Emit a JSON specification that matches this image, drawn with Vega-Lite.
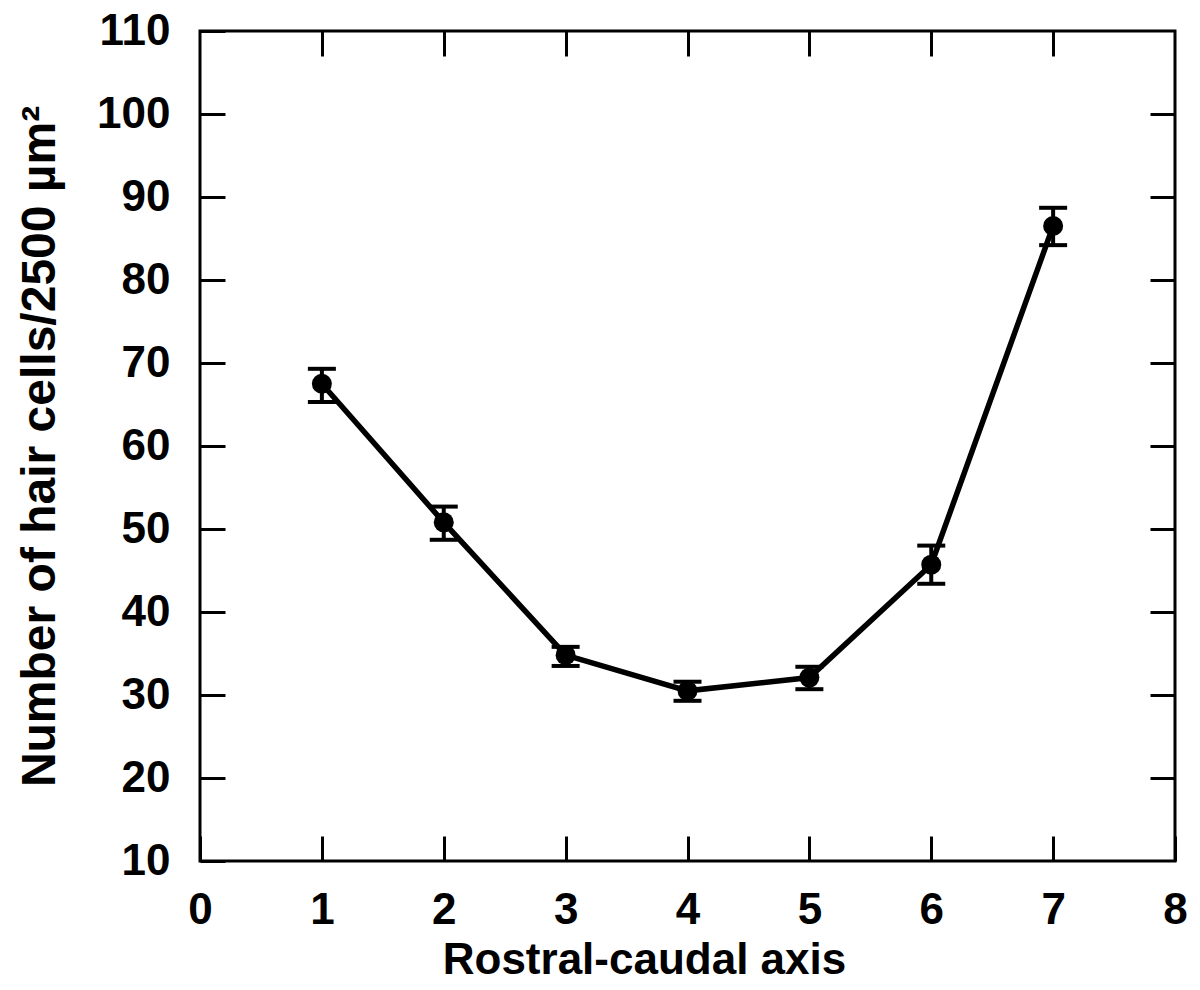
{
  "$schema": "https://vega.github.io/schema/vega-lite/v6.json",
  "width": 975,
  "height": 830,
  "autosize": "none",
  "padding": {"left": 200, "top": 31, "right": 25, "bottom": 129},
  "background": "white",
  "config": {
    "view": {"stroke": "black", "strokeWidth": 3},
    "axis": {
      "domain": false,
      "grid": false,
      "labelFlush": false,
      "labelOverlap": false,
      "tickColor": "black",
      "tickWidth": 3,
      "tickSize": -25,
      "labelFont": "Liberation Sans",
      "labelFontWeight": "bold",
      "labelFontSize": 44,
      "labelColor": "black",
      "titleFont": "Liberation Sans",
      "titleFontWeight": "bold",
      "titleFontSize": 44,
      "titleColor": "black"
    }
  },
  "data": {
    "values": [
      {"pos": 1, "mean": 67.5, "lo": 65.3, "hi": 69.3},
      {"pos": 2, "mean": 50.8, "lo": 48.7, "hi": 52.7},
      {"pos": 3, "mean": 34.8, "lo": 33.5, "hi": 35.8},
      {"pos": 4, "mean": 30.5, "lo": 29.3, "hi": 31.6},
      {"pos": 5, "mean": 32.1, "lo": 30.7, "hi": 33.4},
      {"pos": 6, "mean": 45.7, "lo": 43.4, "hi": 48.0},
      {"pos": 7, "mean": 86.5, "lo": 84.2, "hi": 88.7}
    ]
  },
  "resolve": {"axis": {"x": "independent", "y": "independent"}},
  "layer": [
    {
      "mark": {"type": "line", "color": "black", "strokeWidth": 5.5},
      "encoding": {
        "x": {"field": "pos", "type": "quantitative", "scale": {"domain": [0, 8]},
          "axis": {"orient": "bottom", "values": [0,1,2,3,4,5,6,7,8], "title": "Rostral-caudal axis", "labelPadding": 52, "titlePadding": 6, "titleX": 444}},
        "y": {"field": "mean", "type": "quantitative", "scale": {"domain": [10, 110]},
          "axis": {"orient": "left", "values": [10,20,30,40,50,60,70,80,90,100,110], "title": "Number of hair cells/2500 µm²", "titleFontSize": 48, "labelPadding": 55, "titlePadding": 32}}
      }
    },
    {
      "mark": {"type": "rule", "color": "black", "strokeWidth": 4, "opacity": 1},
      "encoding": {
        "x": {"field": "pos", "type": "quantitative", "axis": {"orient": "top", "values": [1,2,3,4,5,6,7], "labels": false, "title": null}},
        "y": {"field": "lo", "type": "quantitative", "axis": {"orient": "right", "values": [20,30,40,50,60,70,80,90,100], "labels": false, "title": null}},
        "y2": {"field": "hi"}
      }
    },
    {
      "mark": {"type": "tick", "color": "black", "orient": "horizontal", "thickness": 4, "size": 28, "opacity": 1},
      "encoding": {
        "x": {"field": "pos", "type": "quantitative", "axis": null},
        "y": {"field": "lo", "type": "quantitative", "axis": null}
      }
    },
    {
      "mark": {"type": "tick", "color": "black", "orient": "horizontal", "thickness": 4, "size": 28, "opacity": 1},
      "encoding": {
        "x": {"field": "pos", "type": "quantitative", "axis": null},
        "y": {"field": "hi", "type": "quantitative", "axis": null}
      }
    },
    {
      "mark": {"type": "point", "filled": true, "color": "black", "opacity": 1, "size": 400, "shape": "circle"},
      "encoding": {
        "x": {"field": "pos", "type": "quantitative", "axis": null},
        "y": {"field": "mean", "type": "quantitative", "axis": null}
      }
    }
  ]
}
